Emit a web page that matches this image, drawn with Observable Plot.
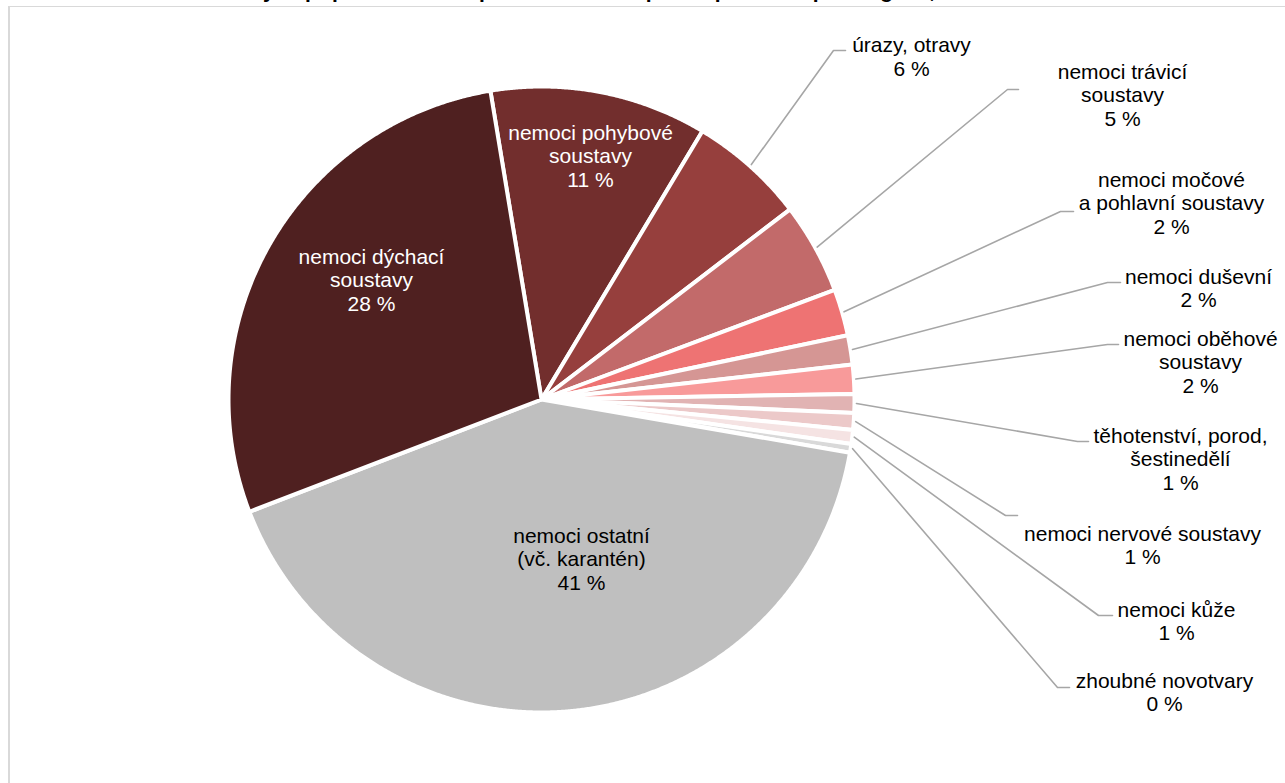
<!DOCTYPE html>
<html>
<head>
<meta charset="utf-8">
<script src="https://cdn.jsdelivr.net/npm/d3@7"></script>
<script src="https://cdn.jsdelivr.net/npm/@observablehq/plot@0.6"></script>
<style>
  html, body { margin: 0; padding: 0; background: #fff; overflow: hidden; width: 1285px; height: 783px; }
  #title { position: absolute; left: 11px; top: -20px; font: bold 21px "Liberation Sans", Arial, sans-serif; line-height: 21px; white-space: nowrap; color: #000; }
  #frame { position: absolute; left: 8px; top: 6px; width: 1400px; height: 900px; border-left: 2px solid #d9d9d9; border-top: 1.5px solid #d9d9d9; }
  #chart { position: absolute; left: 0; top: 0; }
</style>
</head>
<body>
<div id="title">Graf 1 Struktura ukončených případů dočasné pracovní neschopnosti podle skupin diagnóz, 2023</div>
<div id="frame"></div>
<div id="chart"></div>
<script>
// ---- data (clockwise from the slice right of 12 o'clock) ----
const categories = [
  "nemoci pohybové\nsoustavy",
  "úrazy, otravy",
  "nemoci trávicí\nsoustavy",
  "nemoci močové\na pohlavní soustavy",
  "nemoci duševní",
  "nemoci oběhové\nsoustavy",
  "těhotenství, porod,\nšestinedělí",
  "nemoci nervové soustavy",
  "nemoci kůže",
  "zhoubné novotvary",
  "nemoci ostatní\n(vč. karantén)",
  "nemoci dýchací\nsoustavy"
];
const shares = [11.2, 6.0, 4.7, 2.4, 1.5, 1.5, 0.97, 0.86, 0.72, 0.45, 41.4, 28.2];
const sliceColors = ["#722e2d", "#963f3d", "#c26a6a", "#ee7373", "#d59694", "#f89a9a",
                     "#e1b3b3", "#ecc9c9", "#f5e3e3", "#d9d9d9", "#bfbfbf", "#4f2020"];

// ---- layout (pixels) ----
const pie = {cx: 541, cy: 399, r: 313, startAngle: -9.4, leaderR: 315, gap: 4};
const FONT = "Liberation Sans, Arial, sans-serif";
const FONT_SIZE = 21, LINE_PX = 24;
// first-line baseline y and centre x of each label; elbow/end of leader for outside labels
const labelLayout = [
  {x: 590,  y: 139,  color: "#fff"},
  {x: 911,  y: 51.5, color: "#000", elbow: [833, 50],   end: [845, 50]},
  {x: 1122, y: 78,   color: "#000", elbow: [1007, 89],  end: [1018, 89]},
  {x: 1171, y: 186,  color: "#000", elbow: [1060, 211], end: [1073, 211]},
  {x: 1198, y: 283,  color: "#000", elbow: [1107, 282], end: [1120, 282]},
  {x: 1200, y: 345,  color: "#000", elbow: [1107, 344], end: [1118, 344]},
  {x: 1180, y: 442,  color: "#000", elbow: [1077, 441], end: [1088, 441]},
  {x: 1142, y: 540,  color: "#000", elbow: [1005, 515], end: [1017, 515]},
  {x: 1176, y: 616,  color: "#000", elbow: [1098, 615], end: [1112, 615]},
  {x: 1164, y: 687,  color: "#000", elbow: [1057, 687], end: [1069, 687]},
  {x: 581,  y: 542,  color: "#000"},
  {x: 371,  y: 263,  color: "#fff"}
];

// ---- derived geometry (unit circle, angle clockwise from top) ----
const total = d3.sum(shares);
const toUx = px => (px - pie.cx) / pie.r;
const toUy = py => (py - pie.cy) / pie.r;
const rad = deg => deg * Math.PI / 180;

let acc = pie.startAngle;
const slices = shares.map((v, i) => {
  const a0 = acc, a1 = acc + v / total * 360;
  acc = a1;
  return {i, cat: categories[i], a0, a1, mid: (a0 + a1) / 2, pct: Math.round(v / total * 100)};
});

const slicePts = [];
for (const s of slices) {
  slicePts.push({cat: s.cat, color: sliceColors[s.i], x: 0, y: 0});
  const n = Math.max(2, Math.ceil((s.a1 - s.a0) / 0.25));
  for (let k = 0; k <= n; k++) {
    const a = rad(s.a0 + (s.a1 - s.a0) * k / n);
    slicePts.push({cat: s.cat, color: sliceColors[s.i], x: Math.sin(a), y: -Math.cos(a)});
  }
}

const leaderPts = [];
slices.forEach((s, i) => {
  const L = labelLayout[i];
  if (!L.elbow) return;
  const a = rad(s.mid), rr = pie.leaderR / pie.r;
  leaderPts.push({cat: s.cat, x: rr * Math.sin(a), y: -rr * Math.cos(a)});
  leaderPts.push({cat: s.cat, x: toUx(L.elbow[0]), y: toUy(L.elbow[1])});
  leaderPts.push({cat: s.cat, x: toUx(L.end[0]), y: toUy(L.end[1])});
});

const labels = slices.map((s, i) => {
  const L = labelLayout[i];
  return {
    text: `${s.cat}\n${s.pct} %`,
    x: toUx(L.x),
    y: toUy(L.y - 0.71 * LINE_PX),
    color: L.color
  };
});

const chart = Plot.plot({
  width: 1285,
  height: 783,
  margin: 0,
  style: {background: "transparent", overflow: "visible"},
  x: {domain: [-1, 1], range: [pie.cx - pie.r, pie.cx + pie.r], axis: null},
  y: {domain: [-1, 1], range: [pie.cy - pie.r, pie.cy + pie.r], axis: null},
  color: {type: "identity"},
  marks: [
    Plot.line(slicePts, {x: "x", y: "y", z: "cat", fill: "color", stroke: "#fff",
      strokeWidth: pie.gap, strokeLinejoin: "round", curve: "linear-closed"}),
    Plot.line(leaderPts, {x: "x", y: "y", z: "cat", stroke: "#a6a6a6", strokeWidth: 1.6}),
    Plot.text(labels, {x: "x", y: "y", text: "text", fill: "color",
      fontSize: FONT_SIZE, fontFamily: FONT, lineHeight: LINE_PX / FONT_SIZE,
      lineAnchor: "top", textAnchor: "middle"})
  ]
});
document.getElementById("chart").appendChild(chart);
</script>
</body>
</html>
